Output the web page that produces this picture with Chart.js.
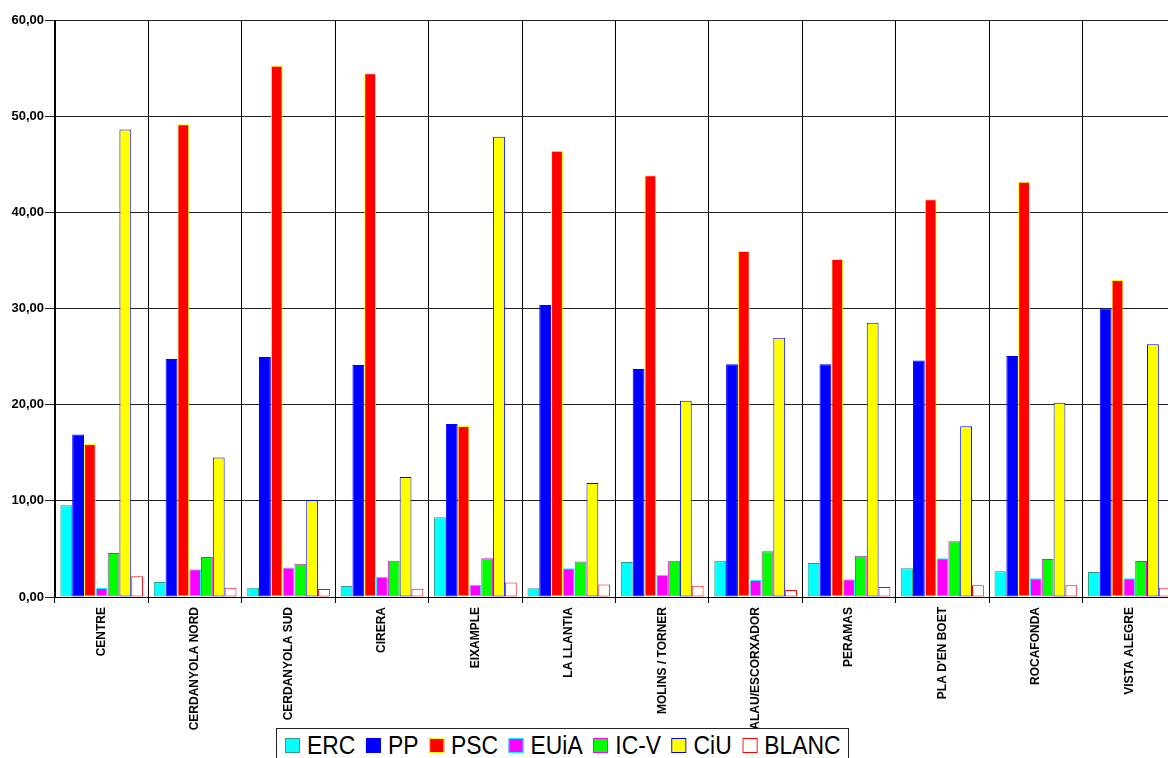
<!DOCTYPE html>
<html>
<head>
<meta charset="utf-8">
<script src="https://cdn.jsdelivr.net/npm/chart.js@4/dist/chart.umd.min.js"></script>
<style>
  html, body { margin: 0; padding: 0; background: #fff; overflow: hidden; width: 1168px; height: 758px; }
  #wrap { position: relative; width: 1168px; height: 758px; overflow: hidden; }
  canvas { position: absolute; left: 0; top: 0; }
  #legend {
    position: absolute; left: 276px; top: 728px; width: 573px; height: 40px;
    border: 1px solid #222; background: #fff; box-sizing: border-box;
    padding: 3px 0 0 8px;
    font-family: 'Liberation Sans', Arial, sans-serif;
    font-size: 26px; color: #000; line-height: 26px;
  }
  #inner { display: flex; align-items: center; transform: scaleX(0.88); transform-origin: 0 0; white-space: nowrap; }
  .item { display: flex; align-items: center; margin-right: 12px; }
  .sw { width: 17px; height: 15px; box-sizing: border-box; border: 1.5px solid; margin-right: 8px; }
</style>
</head>
<body>
<div id="wrap">
  <canvas id="c" width="1176" height="758"></canvas>
  <div id="legend"><div id="inner"></div></div>
</div>
<script>
const categories = ['CENTRE','CERDANYOLA NORD','CERDANYOLA SUD','CIRERA','EIXAMPLE','LA LLANTIA','MOLINS / TORNER','PALAU/ESCORXADOR','PERAMAS',"PLA D'EN BOET",'ROCAFONDA','VISTA ALEGRE'];
const seriesNames = ['ERC','PP','PSC','EUiA','IC-V','CiU','BLANC'];
const ERC   = [9.53, 1.56, 0.97, 1.14, 8.28, 0.90, 3.64, 3.78, 3.54, 2.98, 2.67, 2.60];
const PP    = [16.90,24.75,24.96,24.12,18.00,30.36,23.70,24.20,24.20,24.60,25.06,30.00];
const PSC   = [15.90,49.15,55.25,54.45,17.78,46.40,43.85,35.97,35.15,41.35,43.19,32.96];
const EUiA  = [0.94, 2.88, 3.08, 2.11, 1.28, 3.00, 2.29, 1.77, 1.84, 4.02, 1.94, 1.94];
const ICV   = [4.58, 4.16, 3.47, 3.78, 4.02, 3.70, 3.78, 4.75, 4.30, 5.79, 3.95, 3.74];
const CiU   = [48.62,14.50,10.09,12.48,47.87,11.85,20.40,26.97,28.53,17.75,20.20,26.27];
const BLANC = [2.15, 0.97, 0.83, 0.85, 1.52, 1.30, 1.18, 0.73, 1.04, 1.21, 1.21, 0.97];
const yTicks = [0, 10, 20, 30, 40, 50, 60];

const seriesValues = [ERC, PP, PSC, EUiA, ICV, CiU, BLANC];
const fills   = ['#00FFFF','#0000FF','#FF0000','#FF00FF','#00FF00','#FFFF00','#FFFFFF'];
const borders = ['#339980','#0000FF','#FFFF00','#00FFFF','#FF00FF','#0000FF','#FF0000'];

const datasets = seriesNames.map((n, i) => ({
  label: n,
  data: seriesValues[i],
  backgroundColor: fills[i],
  borderColor: borders[i],
  borderWidth: 1,
  borderSkipped: false,
  barPercentage: 1.0,
  categoryPercentage: 0.885
}));

new Chart(document.getElementById('c'), {
  type: 'bar',
  data: { labels: categories, datasets },
  options: {
    responsive: false,
    animation: false,
    layout: { padding: { top: 20, left: 0, right: 0, bottom: 0 } },
    plugins: { legend: { display: false }, tooltip: { enabled: false } },
    scales: {
      x: {
        afterFit: s => { s.height = 161; },
        border: { display: true, color: '#000', width: 1 },
        grid: { offset: true, color: '#000', lineWidth: 1, tickLength: 6, drawTicks: true },
        ticks: {
          autoSkip: false, maxRotation: 90, minRotation: 90, padding: 4,
          color: '#000',
          font: { family: "'Liberation Sans', Arial, sans-serif", size: 12, weight: 'bold' }
        }
      },
      y: {
        min: 0, max: 60,
        afterFit: s => { s.width = 55; },
        afterBuildTicks: s => { s.ticks = yTicks.map(v => ({ value: v })); },
        border: { display: true, color: '#000', width: 1 },
        grid: { color: '#222', lineWidth: 1, tickLength: 10, drawTicks: true },
        ticks: {
          padding: 1, color: '#000',
          font: { family: "'Liberation Sans', Arial, sans-serif", size: 13, weight: 'bold' },
          callback: v => Number(v).toFixed(2).replace('.', ',')
        }
      }
    }
  }
});

const lg = document.getElementById('inner');
seriesNames.forEach((n, i) => {
  const it = document.createElement('div');
  it.className = 'item';
  const sw = document.createElement('div');
  sw.className = 'sw';
  sw.style.background = fills[i];
  sw.style.borderColor = borders[i];
  const tx = document.createElement('span');
  tx.textContent = n;
  it.appendChild(sw); it.appendChild(tx);
  lg.appendChild(it);
});
</script>
</body>
</html>
